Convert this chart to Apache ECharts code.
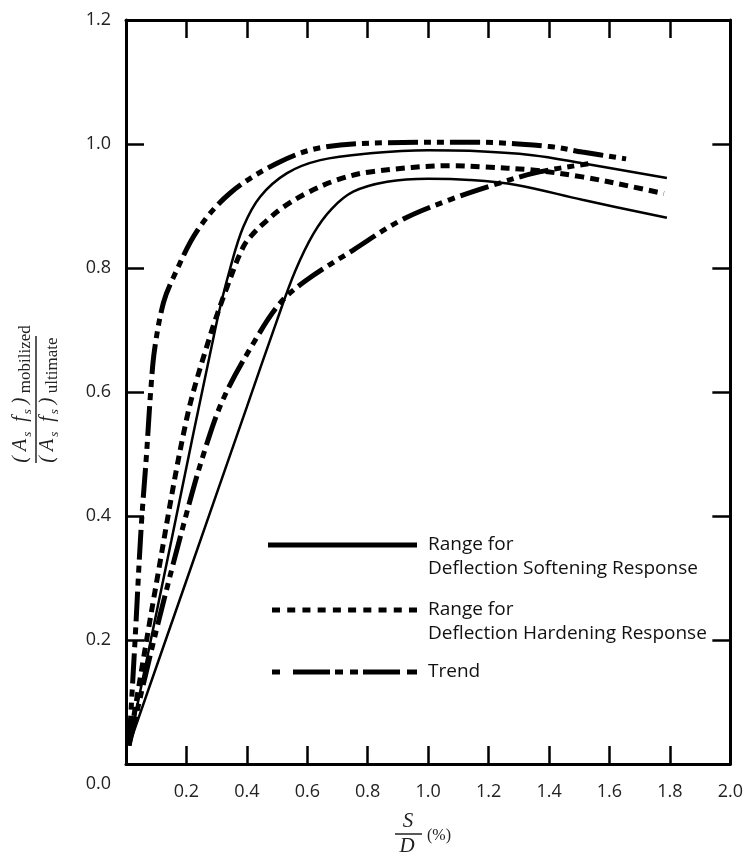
<!DOCTYPE html>
<html>
<head>
<meta charset="utf-8">
<script src="https://cdn.jsdelivr.net/npm/echarts@6/dist/echarts.min.js"></script>
<style>
html,body{margin:0;padding:0;background:#fff;}
#chart{width:746px;height:866px;}
</style>
</head>
<body>
<div id="chart"></div>
<script>
// ---- data (x = S/D in %, y = mobilized / ultimate) ----
const xTickLabels = ['', '0.2', '0.4', '0.6', '0.8', '1.0', '1.2', '1.4', '1.6', '1.8', '2.0'];
const yTickLabels = ['0.0', '0.2', '0.4', '0.6', '0.8', '1.0', '1.2'];

const softeningUpper = [
  [0.01, 0.03], [0.15, 0.36], [0.3, 0.712], [0.345, 0.8],
  [0.388, 0.866], [0.444, 0.915], [0.533, 0.953], [0.643, 0.974], [0.808, 0.985],
  [1.0, 0.99], [1.137, 0.989], [1.345, 0.982], [1.51, 0.969], [1.79, 0.945]
];
const softeningLower = [
  [0.01, 0.03], [0.2, 0.296], [0.4, 0.576], [0.5, 0.716], [0.56, 0.795],
  [0.62, 0.855], [0.68, 0.895], [0.752, 0.923], [0.864, 0.939],
  [1.0, 0.944], [1.137, 0.942], [1.292, 0.934], [1.51, 0.91], [1.79, 0.881]
];
const hardening = [
  [0.01, 0.03], [0.1, 0.29], [0.2, 0.555], [0.274, 0.684],
  [0.335, 0.77], [0.388, 0.834], [0.422, 0.856], [0.467, 0.877], [0.52, 0.898],
  [0.599, 0.921], [0.698, 0.942], [0.808, 0.955], [1.082, 0.965], [1.18, 0.963],
  [1.345, 0.958], [1.51, 0.947], [1.676, 0.931], [1.78, 0.92]
];
const trendUpper = [
  [0.01, 0.03], [0.03, 0.2], [0.05, 0.38], [0.068, 0.5], [0.082, 0.603], [0.095, 0.67],
  [0.124, 0.744], [0.157, 0.785], [0.237, 0.861], [0.345, 0.921], [0.5, 0.969],
  [0.643, 0.994], [0.864, 1.002], [1.137, 1.003], [1.4, 0.996], [1.51, 0.987], [1.655, 0.976]
];
const trendLower = [
  [0.01, 0.03], [0.1, 0.215], [0.197, 0.398], [0.26, 0.505], [0.323, 0.59], [0.422, 0.679],
  [0.511, 0.744], [0.599, 0.781], [0.752, 0.829], [0.906, 0.876], [1.071, 0.91],
  [1.236, 0.937], [1.368, 0.955], [1.53, 0.968]
];

const NAME_SOFT = 'Range for\nDeflection Softening Response';
const NAME_HARD = 'Range for\nDeflection Hardening Response';
const NAME_TREND = 'Trend';

// ---- styles ----
const INK = '#000';
const LABEL_FONT = 'Open Sans';
const solidStyle = { color: INK, width: 2.5, type: 'solid' };
const dashStyle = { color: INK, width: 5, type: [9, 6], cap: 'butt' };
const trendStyle = { color: INK, width: 5, type: [30, 6, 7, 6, 7, 6], cap: 'butt' };

function lineSeries(name, data, style) {
  return {
    type: 'line', name: name, data: data, smooth: 0.35, symbol: 'none',
    lineStyle: style, itemStyle: { color: INK }, silent: true, animation: false, z: 3
  };
}

// legend icon paths (in px units of the icon box)
function dashPath(segs, h) {
  return 'path://' + segs.map(s => 'M' + s[0] + ',0H' + s[1] + 'V' + h + 'H' + s[0] + 'Z').join(' ');
}
const hardSegs = [];
for (let i = 0; i < 10; i++) { const a = +(i * 15.22).toFixed(2); hardSegs.push([a, +(a + 8).toFixed(2)]); }
const trendSegs = [[0, 8], [21, 58], [63, 71], [78, 86], [91, 128], [135, 145]];

const legendText = { fontFamily: LABEL_FONT, fontSize: 19, color: '#111', lineHeight: 24, padding: [0, 0, 0, 6] };
// a blank first line keeps the icon level with the first text line
const legendFormatter = name => (name.indexOf('\n') >= 0 ? '\n' + name : name);

const chart = echarts.init(document.getElementById('chart'), null, { renderer: 'canvas' });

const axisCommon = {
  type: 'value',
  axisLine: { show: true, onZero: false, lineStyle: { color: INK, width: 3 } },
  axisTick: { show: true, inside: true, length: 18, lineStyle: { color: INK, width: 2.5 } },
  splitLine: { show: false }
};

const serifRich = {
  h: { fontSize: 1, lineHeight: 23 },
  m: { fontFamily: 'Liberation Serif', fontStyle: 'italic', fontSize: 20, lineHeight: 20, verticalAlign: 'top', fill: '#222' },
  s: { fontFamily: 'Liberation Serif', fontStyle: 'italic', fontSize: 13, lineHeight: 13, verticalAlign: 'bottom', fill: '#222', padding: [0, 0, 0, 2] },
  w: { fontFamily: 'Liberation Serif', fontSize: 17, lineHeight: 17, verticalAlign: 'bottom', fill: '#222' }
};

const option = {
  backgroundColor: '#fff',
  animation: false,
  grid: { left: 126, right: 15, top: 20, bottom: 102, containLabel: false },
  xAxis: [
    Object.assign({}, axisCommon, {
      min: 0, max: 2, interval: 0.2, position: 'bottom',
      axisLabel: {
        show: true, margin: 19, fontFamily: LABEL_FONT, fontSize: 18, color: '#222',
        showMinLabel: false, showMaxLabel: true,
        formatter: v => xTickLabels[Math.round(v / 0.2)] || ''
      }
    }),
    Object.assign({}, axisCommon, {
      min: 0, max: 2, interval: 0.2, position: 'top', axisLabel: { show: false }
    })
  ],
  yAxis: [
    Object.assign({}, axisCommon, {
      min: 0, max: 1.2, interval: 0.2, position: 'left',
      axisLabel: {
        show: true, margin: 15, fontFamily: LABEL_FONT, fontSize: 18, color: '#222',
        showMinLabel: true, showMaxLabel: true,
        formatter: v => {
          const i = Math.round(v / 0.2);
          return i === 0 ? '{z|' + yTickLabels[0] + '}' : yTickLabels[i];
        },
        rich: { z: { fontFamily: LABEL_FONT, fontSize: 18, color: '#222', padding: [40, 0, 0, 0] } }
      }
    }),
    Object.assign({}, axisCommon, {
      min: 0, max: 1.2, interval: 0.2, position: 'right', axisLabel: { show: false }
    })
  ],
  legend: [
    {
      left: 268, top: 509, padding: 0, orient: 'vertical', selectedMode: false,
      itemWidth: 149, itemHeight: 5, formatter: legendFormatter,
      data: [{ name: NAME_SOFT, icon: 'path://M0,0H149V5H0Z' }],
      textStyle: legendText
    },
    {
      left: 272, top: 574, padding: 0, orient: 'vertical', selectedMode: false,
      itemWidth: 145, itemHeight: 5, formatter: legendFormatter,
      data: [{ name: NAME_HARD, icon: dashPath(hardSegs, 5) }],
      textStyle: legendText
    },
    {
      left: 272, top: 660, padding: 0, orient: 'vertical', selectedMode: false,
      itemWidth: 145, itemHeight: 5, formatter: legendFormatter,
      data: [{ name: NAME_TREND, icon: dashPath(trendSegs, 5) }],
      textStyle: legendText
    }
  ],
  graphic: [
    // y-axis title: (As fs) mobilized / (As fs) ultimate, rotated
    {
      type: 'group', x: 36, y: 398, rotation: Math.PI / 2, silent: true,
      children: [
        { type: 'line', shape: { x1: -65, y1: 0, x2: 62, y2: 0 }, style: { stroke: '#222', lineWidth: 1.5 } },
        {
          type: 'text', x: -65, y: -2,
          style: {
            text: '{h| }{m|( A}{s|s}{m|  f}{s|s}{m| )}{w| mobilized}',
            align: 'left', verticalAlign: 'bottom', fill: '#222', rich: serifRich
          }
        },
        {
          type: 'text', x: -65, y: 2,
          style: {
            text: '{h| }{m|( A}{s|s}{m|  f}{s|s}{m| )}{w| ultimate}',
            align: 'left', verticalAlign: 'top', fill: '#222', rich: serifRich
          }
        }
      ]
    },
    // x-axis title: S / D (%)
    {
      type: 'group', x: 408, y: 834, silent: true,
      children: [
        { type: 'line', shape: { x1: -13, y1: 0, x2: 14, y2: 0 }, style: { stroke: '#222', lineWidth: 1.5 } },
        { type: 'text', x: 0, y: -2, style: { text: 'S', align: 'center', verticalAlign: 'bottom', fontFamily: 'Liberation Serif', fontStyle: 'italic', fontSize: 21, fill: '#222' } },
        { type: 'text', x: -1, y: 2, style: { text: 'D', align: 'center', verticalAlign: 'top', fontFamily: 'Liberation Serif', fontStyle: 'italic', fontSize: 21, fill: '#222' } },
        { type: 'text', x: 19, y: 2, style: { text: '(%)', align: 'left', verticalAlign: 'middle', fontFamily: 'Liberation Serif', fontSize: 16, fill: '#222' } }
      ]
    }
  ],
  series: [
    lineSeries(NAME_SOFT, softeningUpper, solidStyle),
    lineSeries(NAME_SOFT, softeningLower, solidStyle),
    lineSeries(NAME_HARD, hardening, dashStyle),
    lineSeries(NAME_TREND, trendUpper, trendStyle),
    lineSeries(NAME_TREND, trendLower, trendStyle)
  ]
};

chart.setOption(option);
</script>
</body>
</html>
